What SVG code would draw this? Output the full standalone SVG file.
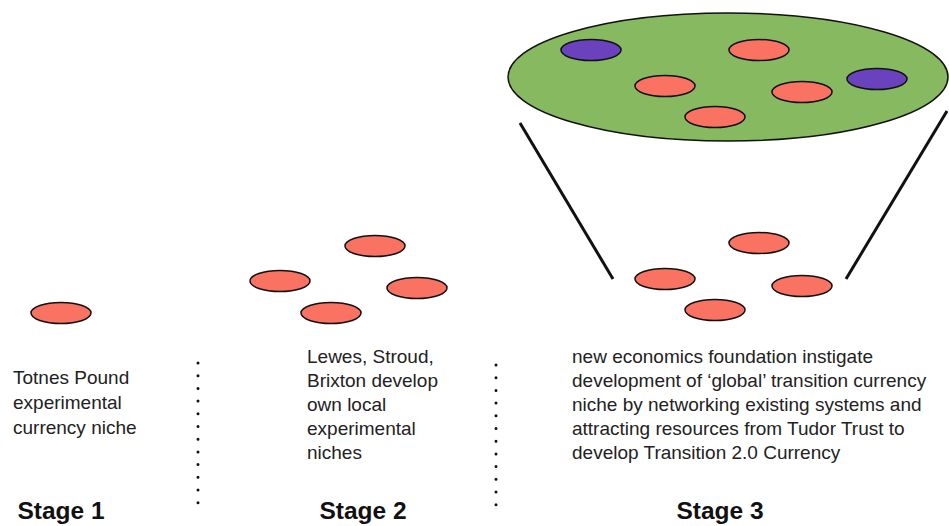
<svg xmlns="http://www.w3.org/2000/svg" width="949" height="526" viewBox="0 0 949 526">
  <style>
    .niche { fill: #fa7262; stroke: #111; stroke-width: 1.5; }
    .hub { fill: #6b42bd; stroke: #111; stroke-width: 1.5; }
    .network { fill: #86b960; stroke: #111; stroke-width: 1.5; }
    .body { font-family: "Liberation Sans", Arial, sans-serif; font-size: 19px; fill: #222; }
    .stage { font-family: "Liberation Sans", Arial, sans-serif; font-size: 24.5px; font-weight: bold; fill: #111; text-anchor: middle; }
    .link { stroke: #111; stroke-width: 3; fill: none; }
    .dots { stroke: #111; stroke-width: 3; stroke-linecap: round; stroke-dasharray: 0 12.7; fill: none; }
  </style>
  <rect width="949" height="526" fill="#fff"/>

  <!-- connectors: funnel from the stage 3 cluster up to the global network -->
  <g id="connectors">
    <line class="link" x1="520" y1="123" x2="613" y2="279"/>
    <line class="link" x1="947" y1="111" x2="846" y2="279"/>
  </g>

  <!-- stage dividers -->
  <g id="dividers">
    <line class="dots" x1="198" y1="363" x2="198" y2="504"/>
    <line class="dots" x1="496" y1="365" x2="496" y2="506"/>
  </g>

  <!-- stage 1 -->
  <g id="stage1-niche"><ellipse class="niche" cx="61" cy="313" rx="30" ry="10.5"/></g>
  <g id="stage1-text">
    <text class="body" x="13" y="384">Totnes Pound</text>
    <text class="body" x="13" y="409">experimental</text>
    <text class="body" x="13" y="434">currency niche</text>
    <text class="stage" x="61" y="519">Stage 1</text>
  </g>

  <!-- stage 2 -->
  <g id="stage2-niche-a"><ellipse class="niche" cx="375" cy="246" rx="30" ry="10.5"/></g>
  <g id="stage2-niche-b"><ellipse class="niche" cx="280" cy="281" rx="30" ry="10.5"/></g>
  <g id="stage2-niche-c"><ellipse class="niche" cx="417" cy="288" rx="30" ry="10.5"/></g>
  <g id="stage2-niche-d"><ellipse class="niche" cx="331" cy="313" rx="30" ry="10.5"/></g>
  <g id="stage2-text">
    <text class="body" x="307" y="363">Lewes, Stroud,</text>
    <text class="body" x="307" y="387">Brixton develop</text>
    <text class="body" x="307" y="411">own local</text>
    <text class="body" x="307" y="435">experimental</text>
    <text class="body" x="307" y="459">niches</text>
    <text class="stage" x="363" y="519">Stage 2</text>
  </g>

  <!-- stage 3: global network -->
  <g id="global-network">
    <ellipse class="network" cx="728" cy="77" rx="220" ry="64"/>
    <ellipse class="hub" cx="591" cy="50" rx="30" ry="10.5"/>
    <ellipse class="niche" cx="759" cy="50" rx="30" ry="10.5"/>
    <ellipse class="niche" cx="665" cy="86" rx="30" ry="10.5"/>
    <ellipse class="niche" cx="802" cy="92" rx="30" ry="10.5"/>
    <ellipse class="hub" cx="877" cy="79" rx="30" ry="10.5"/>
    <ellipse class="niche" cx="715" cy="117" rx="30" ry="10.5"/>
  </g>

  <!-- stage 3: existing local niches -->
  <g id="stage3-niche-a"><ellipse class="niche" cx="759" cy="243" rx="30" ry="10.5"/></g>
  <g id="stage3-niche-b"><ellipse class="niche" cx="665" cy="279" rx="30" ry="10.5"/></g>
  <g id="stage3-niche-c"><ellipse class="niche" cx="802" cy="286" rx="30" ry="10.5"/></g>
  <g id="stage3-niche-d"><ellipse class="niche" cx="715" cy="310" rx="30" ry="10.5"/></g>
  <g id="stage3-text">
    <text class="body" x="572" y="363">new economics foundation instigate</text>
    <text class="body" x="572" y="387">development of ‘global’ transition currency</text>
    <text class="body" x="572" y="411">niche by networking existing systems and</text>
    <text class="body" x="572" y="435">attracting resources from Tudor Trust to</text>
    <text class="body" x="572" y="459">develop Transition 2.0 Currency</text>
    <text class="stage" x="720" y="519">Stage 3</text>
  </g>
</svg>
